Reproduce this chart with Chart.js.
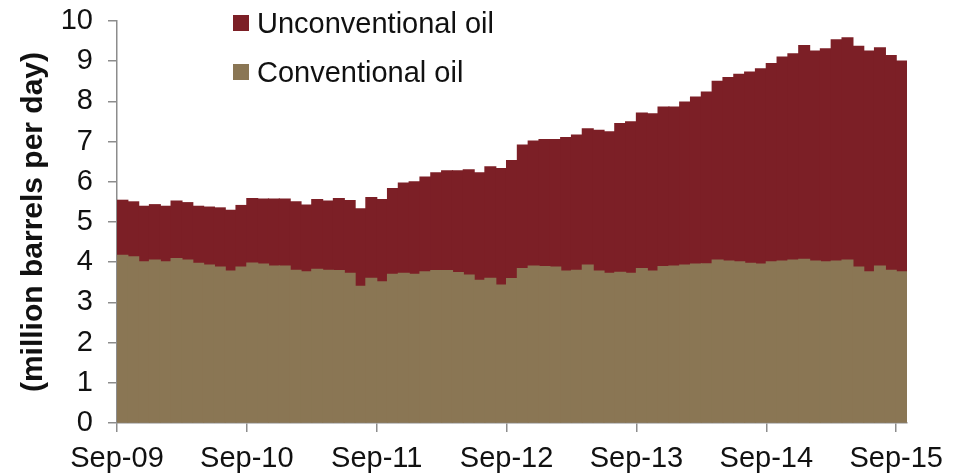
<!DOCTYPE html>
<html>
<head>
<meta charset="utf-8">
<script src="https://cdn.jsdelivr.net/npm/chart.js@4.4.0/dist/chart.umd.min.js"></script>
<style>
    html, body { margin: 0; padding: 0; background: #fff; }
    #wrap { position: relative; width: 974px; height: 475px; }
    .legend-row {
        position: absolute; left: 233px; height: 34px; line-height: 34px;
        font-family: "Liberation Sans", Arial, sans-serif; font-size: 29px; color: #111;
        display: flex; align-items: center; white-space: nowrap;
    }
    .legend-row .box { width: 16px; height: 16px; margin-right: 8px; }
</style>
</head>
<body>
<div id="wrap">
    <canvas id="oilChart" width="974" height="475"></canvas>
    <div class="legend-row" style="top: 6px;"><span class="box" style="background:#7c1f26"></span>Unconventional oil</div>
    <div class="legend-row" style="top: 55px;"><span class="box" style="background:#8a7654"></span>Conventional oil</div>
</div>
<script>
// monthly, Sep-09 .. Sep-15 (million barrels per day)
const xTickLabels = ['Sep-09', 'Sep-10', 'Sep-11', 'Sep-12', 'Sep-13', 'Sep-14', 'Sep-15'];

const conventional = [
    4.17, 4.13, 4.01, 4.05, 4.01, 4.09, 4.05, 3.97, 3.93, 3.88, 3.78, 3.88,
    3.98, 3.95, 3.90, 3.90, 3.80, 3.76, 3.82, 3.80, 3.79, 3.72, 3.40, 3.60,
    3.51, 3.70, 3.72, 3.70, 3.76, 3.79, 3.79, 3.74, 3.68, 3.55, 3.60, 3.43,
    3.59, 3.84, 3.90, 3.89, 3.88, 3.78, 3.80, 3.93, 3.78, 3.72, 3.75, 3.72,
    3.84, 3.78, 3.89, 3.90, 3.93, 3.95, 3.96, 4.05, 4.03, 4.01, 3.97, 3.95,
    4.01, 4.03, 4.05, 4.07, 4.03, 4.01, 4.03, 4.05, 3.88, 3.76, 3.90, 3.80,
    3.76
];

const unconventional = [
    1.37, 1.37, 1.38, 1.38, 1.38, 1.43, 1.43, 1.42, 1.44, 1.47, 1.51, 1.53,
    1.60, 1.62, 1.67, 1.67, 1.70, 1.66, 1.74, 1.72, 1.79, 1.81, 1.93, 2.01,
    2.05, 2.13, 2.25, 2.30, 2.36, 2.43, 2.48, 2.53, 2.62, 2.67, 2.77, 2.90,
    2.94, 3.07, 3.11, 3.16, 3.17, 3.32, 3.36, 3.39, 3.50, 3.52, 3.70, 3.77,
    3.87, 3.91, 3.97, 3.96, 4.05, 4.16, 4.27, 4.45, 4.56, 4.66, 4.76, 4.86,
    4.93, 5.07, 5.13, 5.32, 5.22, 5.30, 5.50, 5.53, 5.49, 5.49, 5.43, 5.34,
    5.24
];

// bar centres on a month axis (tick at the start of each September)
const monthPos = conventional.map((v, i) => i + 0.5);

const axisColor = '#8c8c8c';
const tickFont = { family: '"Liberation Sans", Arial, sans-serif', size: 29 };

new Chart(document.getElementById('oilChart'), {
    type: 'bar',
    data: {
        labels: monthPos,
        datasets: [
            {
                label: 'Conventional oil',
                data: conventional,
                backgroundColor: '#8a7654',
                borderWidth: 0,
                inflateAmount: 0.6,
                barPercentage: 1,
                categoryPercentage: 1
            },
            {
                label: 'Unconventional oil',
                data: unconventional,
                backgroundColor: '#7c1f26',
                borderWidth: 0,
                inflateAmount: 0.6,
                barPercentage: 1,
                categoryPercentage: 1
            }
        ]
    },
    options: {
        responsive: false,
        animation: false,
        layout: { padding: { top: 0, right: 67, bottom: 0, left: 0 } },
        scales: {
            x: {
                type: 'linear',
                min: 0,
                max: 73,
                offset: false,
                stacked: true,
                grid: { drawOnChartArea: false, tickLength: 9, color: axisColor, lineWidth: 1.5, offset: false },
                border: { display: true, color: axisColor, width: 1.5 },
                ticks: {
                    stepSize: 12,
                    includeBounds: false,
                    autoSkip: false,
                    maxRotation: 0,
                    padding: 10,
                    color: '#111',
                    font: tickFont,
                    callback: (value) => xTickLabels[value / 12]
                },
                afterFit: (scale) => { scale.height = 52; }
            },
            y: {
                min: 0,
                max: 10,
                stacked: true,
                grid: { drawOnChartArea: false, tickLength: 9, color: axisColor, lineWidth: 1.5 },
                border: { display: true, color: axisColor, width: 1.5 },
                ticks: { stepSize: 1, padding: 15, color: '#111', font: tickFont },
                title: {
                    display: true,
                    text: '(million barrels per day)',
                    color: '#111',
                    font: { family: '"Liberation Sans", Arial, sans-serif', size: 30, weight: 'bold' },
                    padding: { top: 16, bottom: 0 }
                },
                afterFit: (scale) => {
                    scale.width = 117;
                    scale.paddingTop = 21;
                    scale.paddingBottom = 0;
                }
            }
        },
        plugins: {
            legend: { display: false },
            tooltip: { enabled: false }
        }
    }
});
</script>
</body>
</html>
